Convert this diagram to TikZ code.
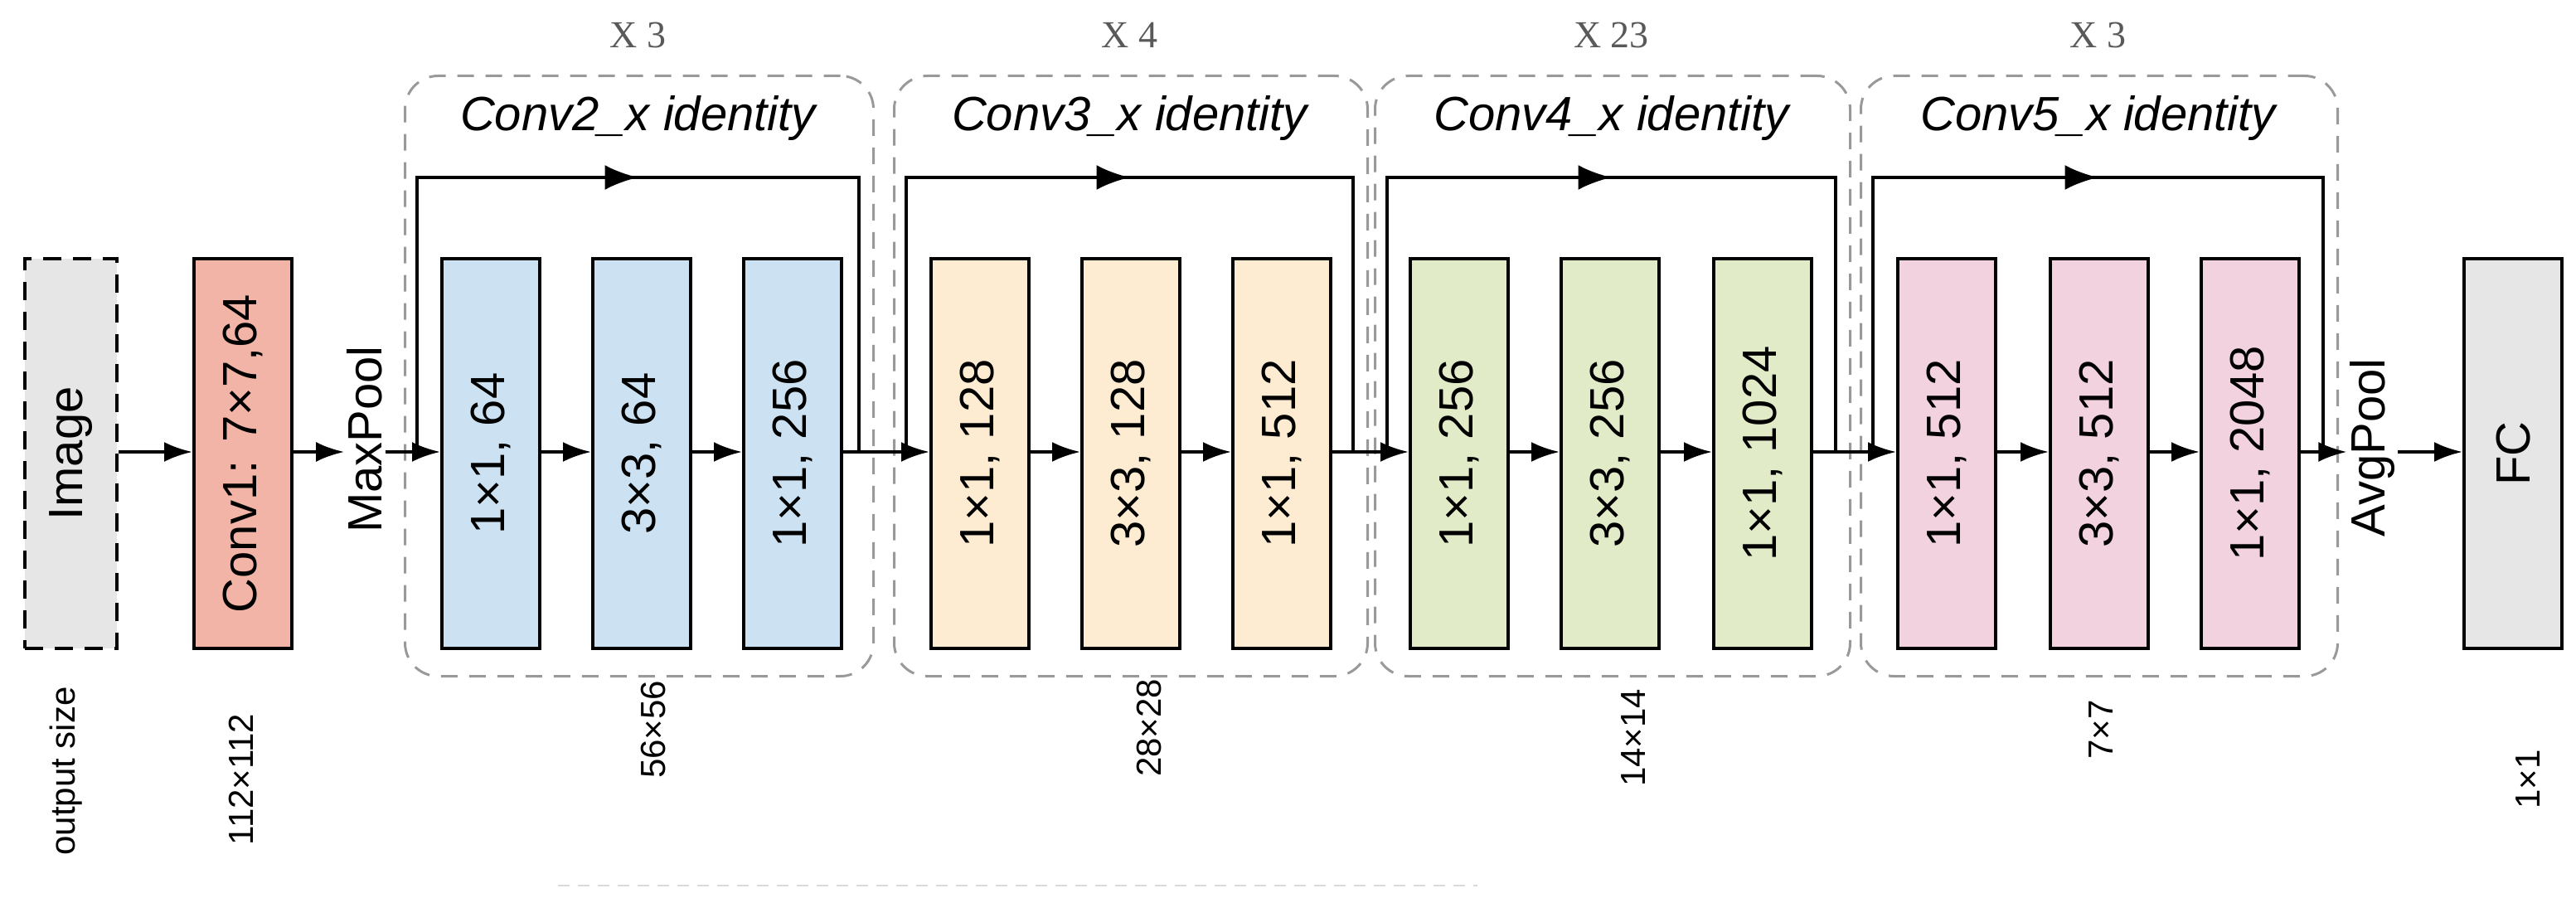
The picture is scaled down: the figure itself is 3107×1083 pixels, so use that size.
\documentclass[tikz,border=0pt]{standalone}
\usepackage{fontspec}
\setmainfont{Liberation Sans}
\newfontfamily\serif{Liberation Serif}
\usetikzlibrary{arrows.meta,decorations.markings}
\begin{document}
\begin{tikzpicture}[x=1pt,y=-1pt,
  blk/.style={draw=black,line width=4pt,minimum width=118pt,minimum height=470pt,anchor=north west,inner sep=0pt},
  lab/.style={rotate=90,font=\fontsize{58}{58}\selectfont},
  sz/.style={rotate=90,font=\fontsize{42}{42}\selectfont},
  stage/.style={draw=gray!80,dashed,line width=3pt,dash pattern=on 20pt off 14pt,rounded corners=40pt},
  ln/.style={line width=4pt},
  arr/.style={ln,-{Latex[length=34pt,width=24pt]}},
  mid/.style={ln,postaction={decorate},decoration={markings,mark=at position 0.5 with {\arrow{Latex[length=40pt,width=30pt]}}}}]
\useasboundingbox (0,0) rectangle (3107,1083);
\definecolor{cI}{HTML}{E6E6E6}\definecolor{cA}{HTML}{F2B4A6}
\definecolor{cB}{HTML}{CCE2F2}\definecolor{cC}{HTML}{FDEBD2}
\definecolor{cD}{HTML}{E2EBC8}\definecolor{cE}{HTML}{F2D2DE}
\node[blk,fill=cI,dashed,dash pattern=on 22pt off 14pt,minimum width=111pt] (img) at (28,310) {};
\node[lab] at (img.center) {Image};
\node[blk,fill=cA] (c1) at (232,310) {};
\node[lab] at (c1.center) {Conv1: 7×7,64};
\node[lab] (mp) at (440,530) {MaxPool};
\node[sz] (os) at (80,930) {output size};
\node[sz] at (291,940) {112×112};
\foreach \n/\bx/\ex/\c/\rep/\ttl/\a/\b/\d/\e/\f/\g in {
  2/487/1052/cB/{X 3}/Conv2/{1×1, 64}/{3×3, 64}/{1×1, 256}/531/713/895,
  3/1077/1648/cC/{X 4}/Conv3/{1×1, 128}/{3×3, 128}/{1×1, 512}/1121/1303/1485,
  4/1657/2230/cD/{X 23}/Conv4/{1×1, 256}/{3×3, 256}/{1×1, 1024}/1699/1881/2065,
  5/2243/2818/cE/{X 3}/Conv5/{1×1, 512}/{3×3, 512}/{1×1, 2048}/2287/2471/2653}{
  \node[stage,minimum width=\ex-\bx,minimum height=724pt,anchor=north west] (st\n) at (\bx,90) {};
  \node[font=\serif\fontsize{46}{46}\selectfont,text=black!65] (rp\n) at ({(\bx+\ex)/2},42) {\rep};
  \node[font=\itshape\fontsize{58}{58}\selectfont] (tt\n) at ({(\bx+\ex)/2},143) {\ttl\_x identity};
  \node[blk,fill=\c] (a\n) at (\e,310) {}; \node[lab] at (a\n.center) {\a};
  \node[blk,fill=\c] (b\n) at (\f,310) {}; \node[lab] at (b\n.center) {\b};
  \node[blk,fill=\c] (d\n) at (\g,310) {}; \node[lab] at (d\n.center) {\d};
  \draw[arr] (a\n.east|-0,545) -- (b\n.west|-0,545);
  \draw[arr] (b\n.east|-0,545) -- (d\n.west|-0,545);
  \coordinate (sl\n) at ({\bx+16},545);
  \coordinate (sr\n) at ({\ex-16},545);
  \draw[mid] (sl\n) -- (sl\n|-0,214) -- (sr\n|-0,214) -- (sr\n);
}
\node[sz] at (788,880) {56×56};
\node[sz] at (1386,878) {28×28};
\node[sz] at (1970,890) {14×14};
\node[sz] at (2534,880) {7×7};
\node[sz] at (3049,940) {1×1};
\node[lab] (ap) at (2861,540) {AvgPool};
\node[blk,fill=cI] (fc) at (2970,310) {};
\node[lab] at (fc.center) {FC};
\draw[arr] (img.east|-0,545) -- (c1.west|-0,545);
\draw[arr] (c1.east|-0,545) -- (mp.north|-0,545);
\draw[arr] (mp.south|-0,545) -- (a2.west|-0,545);
\draw[arr] (d2.east|-0,545) -- (a3.west|-0,545);
\draw[arr] (d3.east|-0,545) -- (a4.west|-0,545);
\draw[arr] (d4.east|-0,545) -- (a5.west|-0,545);
\draw[arr] (d5.east|-0,545) -- (ap.north|-0,545);
\draw[arr] (ap.south|-0,545) -- (fc.west|-0,545);
\coordinate (bl) at (673,1068); \coordinate (br) at (1782,1068);
\draw[gray!30,line width=2pt,dashed,dash pattern=on 14pt off 10pt] (bl) -- (br);
\end{tikzpicture}
\end{document}
